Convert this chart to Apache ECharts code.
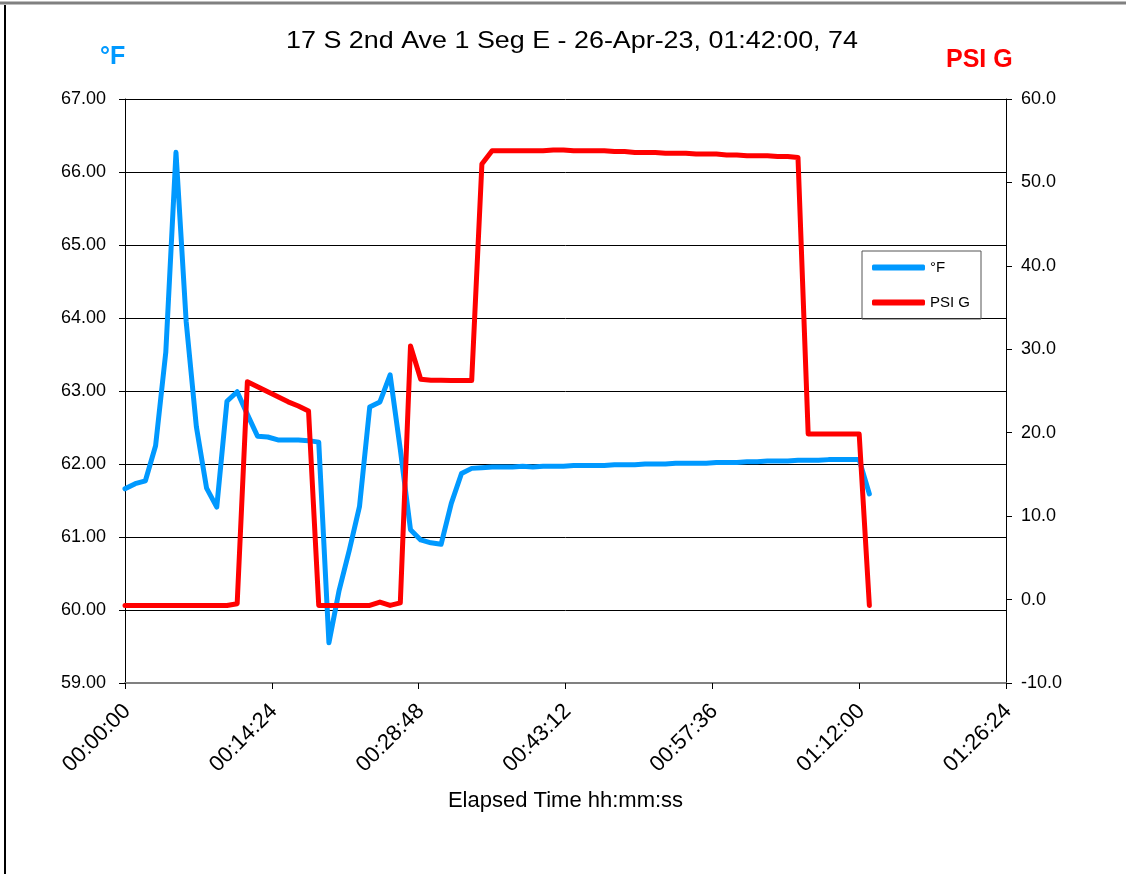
<!DOCTYPE html>
<html>
<head>
<meta charset="utf-8">
<script src="https://cdn.jsdelivr.net/npm/echarts@6/dist/echarts.min.js"></script>
<style>
html,body{margin:0;padding:0;background:#fff;}
#chart{width:1126px;height:874px;}
</style>
</head>
<body>
<div id="chart"></div>
<script>
// Elapsed minutes of each reading
const minutes = [0,1,2,3,4,5,6,7,8,9,10,11,12,13,14,15,16,17,18,19,20,21,22,23,24,25,26,27,28,29,30,31,32,33,34,35,36,37,38,39,40,41,42,43,44,45,46,47,48,49,50,51,52,53,54,55,56,57,58,59,60,61,62,63,64,65,66,67,68,69,70,71,72,73];
// Temperature °F
const tempF = [61.66,61.73,61.77,62.25,63.53,66.27,63.95,62.51,61.67,61.41,62.86,62.99,62.68,62.38,62.37,62.33,62.33,62.33,62.32,62.30,
  59.55,60.27,60.82,61.42,62.78,62.85,63.22,62.20,61.10,60.96,60.92,60.90,61.46,61.87,61.94,61.95,61.96,61.96,61.96,61.97,
  61.96,61.97,61.97,61.97,61.98,61.98,61.98,61.98,61.99,61.99,61.99,62.00,62.00,62.00,62.01,62.01,62.01,62.01,62.02,62.02,
  62.02,62.03,62.03,62.04,62.04,62.04,62.05,62.05,62.05,62.06,62.06,62.06,62.06,61.59];
// Pressure PSI G
const psiG = [-0.7,-0.7,-0.7,-0.7,-0.7,-0.7,-0.7,-0.7,-0.7,-0.7,-0.7,-0.5,26.1,25.5,24.9,24.3,23.7,23.2,22.6,-0.7,
  -0.7,-0.7,-0.7,-0.7,-0.7,-0.3,-0.7,-0.4,30.4,26.4,26.3,26.3,26.25,26.25,26.25,52.2,53.8,53.8,53.8,53.8,
  53.8,53.8,53.9,53.9,53.8,53.8,53.8,53.8,53.7,53.7,53.6,53.6,53.6,53.5,53.5,53.5,53.4,53.4,53.4,53.3,
  53.3,53.2,53.2,53.2,53.1,53.1,53.0,19.85,19.85,19.85,19.85,19.85,19.85,-0.7];

const titleText = '17 S 2nd Ave 1 Seg E - 26-Apr-23, 01:42:00, 74';
const xName = 'Elapsed Time hh:mm:ss';

function hms(s){
  const h = Math.floor(s/3600), m = Math.floor((s%3600)/60), sec = Math.round(s%60);
  const p = v => (v<10?'0':'')+v;
  return p(h)+':'+p(m)+':'+p(sec);
}

const font = '"Liberation Sans", Arial, sans-serif';
const chart = echarts.init(document.getElementById('chart'));
chart.setOption({
  animation:false,
  backgroundColor:'#fff',
  textStyle:{fontFamily:font},
  grid:{left:125,right:120,top:99,bottom:191,containLabel:false},
  legend:{
    data:['°F','PSI G'], orient:'vertical', left:862, top:251,
    padding:[9,11,9,10], itemGap:20, itemWidth:53, itemHeight:6,
    icon:'roundRect', borderColor:'#555', borderWidth:1,
    textStyle:{fontFamily:font,fontSize:15,color:'#000',lineHeight:15}
  },
  graphic:[
    {type:'line',shape:{x1:0,y1:3,x2:1126,y2:3},style:{stroke:'#808080',lineWidth:3},silent:true},
    {type:'line',shape:{x1:5,y1:5,x2:5,y2:874},style:{stroke:'#000',lineWidth:2},silent:true},
    {type:'text',x:572,y:41,scaleX:1.12,style:{text:titleText,textAlign:'center',textVerticalAlign:'middle',fontFamily:font,fontSize:24,fill:'#000'}},
    {type:'text',x:100,y:57,style:{text:'°F',textAlign:'left',textVerticalAlign:'middle',fontFamily:font,fontSize:25,fontWeight:'bold',fill:'#0099ff'}},
    {type:'text',x:946,y:60,style:{text:'PSI G',textAlign:'left',textVerticalAlign:'middle',fontFamily:font,fontSize:25,fontWeight:'bold',fill:'#ff0000'}}
  ],
  xAxis:{
    type:'value', min:0, max:5184, interval:864,
    name:xName, nameLocation:'middle', nameGap:107, nameMoveOverlap:false,
    nameTextStyle:{fontFamily:font,fontSize:22,color:'#000'},
    axisLine:{show:true,onZero:false,lineStyle:{color:'#808080',width:2}},
    axisTick:{show:true,length:6,lineStyle:{color:'#000'}},
    splitLine:{show:false},
    axisLabel:{rotate:45,margin:27,padding:[0,-3,0,0],fontFamily:font,fontSize:22,color:'#000',formatter:v=>hms(v)}
  },
  yAxis:[
    {type:'value',min:59,max:67,interval:1,position:'left',
     axisLine:{show:true,lineStyle:{color:'#000',width:1}},
     axisTick:{show:true,length:6,lineStyle:{color:'#000'}},
     splitLine:{show:true,lineStyle:{color:'#000',width:1}},
     axisLabel:{margin:19,fontFamily:font,fontSize:18,color:'#000',formatter:v=>v.toFixed(2)}},
    {type:'value',min:-10,max:60,interval:10,position:'right',
     axisLine:{show:true,lineStyle:{color:'#000',width:1}},
     axisTick:{show:true,length:6,lineStyle:{color:'#000'}},
     splitLine:{show:false},
     axisLabel:{margin:15,fontFamily:font,fontSize:18,color:'#000',formatter:v=>v.toFixed(1)}}
  ],
  series:[
    {name:'°F',type:'line',yAxisIndex:0,showSymbol:false,symbol:'none',
     lineStyle:{color:'#0099ff',width:5,join:'round',cap:'round'},itemStyle:{color:'#0099ff'},
     data:minutes.map((m,i)=>[m*60,tempF[i]])},
    {name:'PSI G',type:'line',yAxisIndex:1,showSymbol:false,symbol:'none',
     lineStyle:{color:'#ff0000',width:5,join:'round',cap:'round'},itemStyle:{color:'#ff0000'},
     data:minutes.map((m,i)=>[m*60,psiG[i]])}
  ]
});
</script>
</body>
</html>
